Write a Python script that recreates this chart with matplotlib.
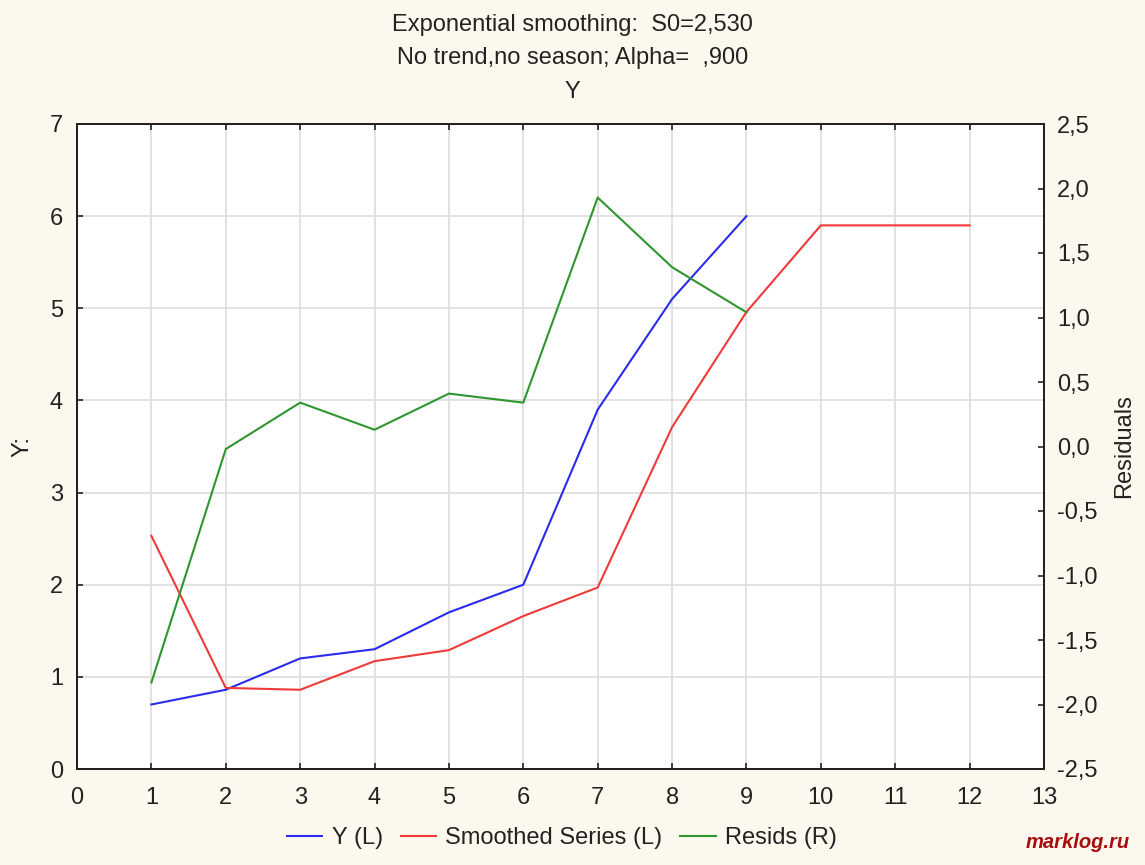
import matplotlib
matplotlib.use("Agg")
import matplotlib.pyplot as plt
from matplotlib.ticker import FuncFormatter

plt.rcParams['font.family'] = ['Liberation Sans', 'DejaVu Sans']

# Data
x_y = [1, 2, 3, 4, 5, 6, 7, 8, 9]
y_vals = [0.70, 0.86, 1.20, 1.30, 1.70, 2.00, 3.90, 5.10, 6.00]
x_s = [1, 2, 3, 4, 5, 6, 7, 8, 9, 10, 11, 12]
smoothed = [2.53, 0.88, 0.86, 1.17, 1.29, 1.66, 1.97, 3.71, 4.96, 5.90, 5.90, 5.90]
x_r = [1, 2, 3, 4, 5, 6, 7, 8, 9]
resids = [-1.83, -0.02, 0.34, 0.13, 0.41, 0.34, 1.93, 1.39, 1.04]

x_ticks = list(range(0, 14))
left_ticks = list(range(0, 8))
right_ticks = [-2.5, -2.0, -1.5, -1.0, -0.5, 0.0, 0.5, 1.0, 1.5, 2.0, 2.5]

title_lines = ["Exponential smoothing:  S0=2,530",
               "No trend,no season; Alpha=  ,900",
               "Y"]

bg = '#FDF8EE'
fs = 17
tc = '#222222'

fig = plt.figure(figsize=(11.45, 8.65), dpi=100, facecolor=bg)
ax = fig.add_axes([77/1145, 1-769/865, (1044-77)/1145, (769-124)/865])
ax.set_facecolor('white')
ax2 = ax.twinx()

l1, = ax.plot(x_y, y_vals, color='#2B2BEE', lw=1.5, label='Y (L)')
l2, = ax.plot(x_s, smoothed, color='#F03A3A', lw=1.5, label='Smoothed Series (L)')
l3, = ax2.plot(x_r, resids, color='#2E962E', lw=1.5, label='Resids (R)')

ax.set_xlim(0, 13)
ax.set_ylim(0, 7)
ax2.set_ylim(-2.5, 2.5)
ax.set_xticks(x_ticks)
ax.set_yticks(left_ticks)
ax2.set_yticks(right_ticks)
ax2.yaxis.set_major_formatter(FuncFormatter(lambda v, p: f"{v:.1f}".replace('.', ',')))

ax.grid(True, color='#DDDDDD', lw=1.2)
ax.set_axisbelow(True)

for a in (ax, ax2):
    for s in a.spines.values():
        s.set_color(tc)
        s.set_linewidth(1.4)

ax.tick_params(axis='both', direction='in', length=4, width=1.2, labelsize=fs,
               colors=tc, top=True)
ax.tick_params(axis='y', pad=10)
ax.tick_params(axis='x', pad=13)
ax2.tick_params(axis='y', direction='in', length=4, width=1.2, labelsize=fs,
                colors=tc, pad=9.5)

ax.set_ylabel('Y:', fontsize=fs, color=tc, labelpad=12)
ax2.set_ylabel('Residuals', fontsize=fs, color=tc, labelpad=11)

for t, yy in zip(title_lines, [25, 58, 92]):
    fig.text(0.5, 1 - yy/865, t, ha='center', va='center', fontsize=fs, color=tc)

fig.legend(handles=[l1, l2, l3], loc='center', bbox_to_anchor=(562/1145, 1 - 838/865),
           ncol=3, frameon=False, fontsize=fs, handlelength=1.5, columnspacing=0.75,
           handletextpad=0.4, labelcolor=tc)

fig.text(1130/1145, 1 - 843/865, 'marklog.ru', ha='right', va='center', fontsize=14.5,
         fontweight='bold', fontstyle='italic', color='#A50F0F')

fig.savefig('out.png', dpi=100, facecolor=bg)
